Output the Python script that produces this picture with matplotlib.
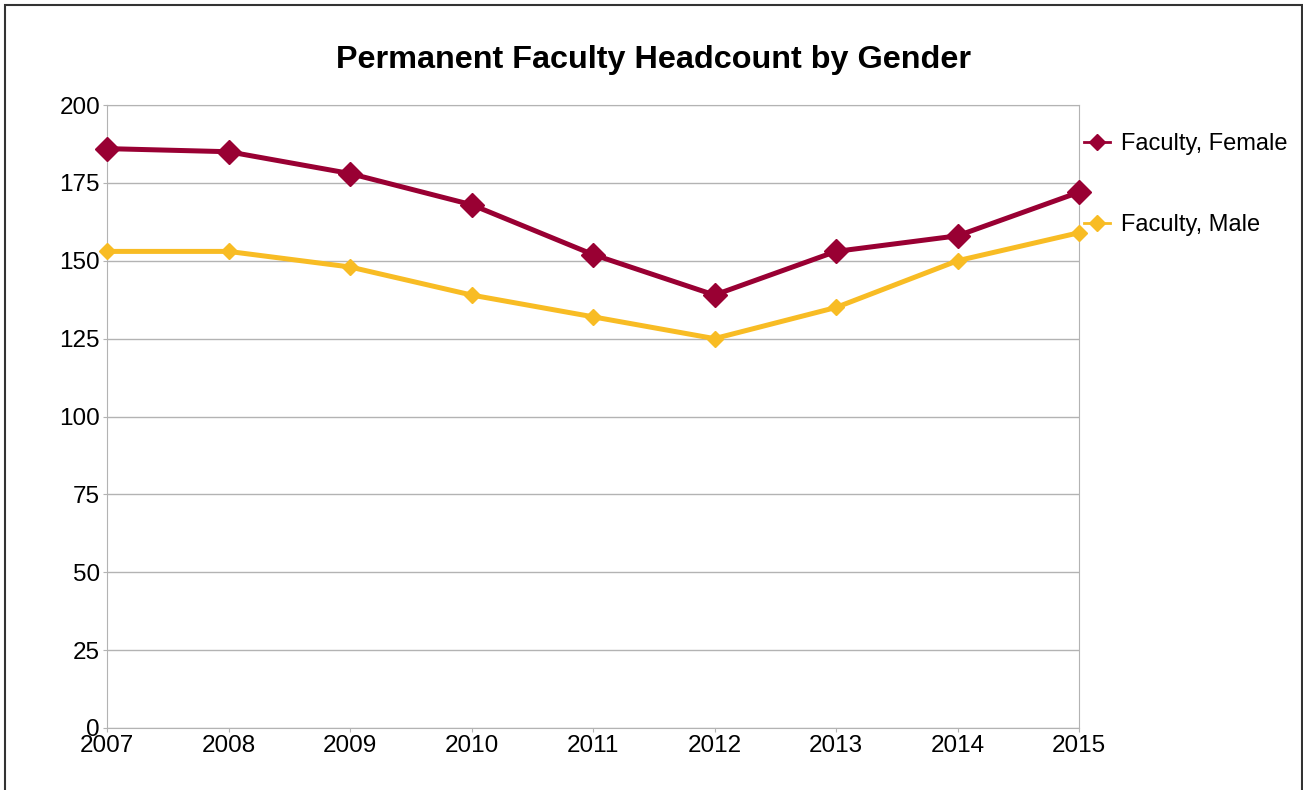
import matplotlib.pyplot as plt
from matplotlib.patches import Rectangle
from matplotlib.lines import Line2D

plt.rcParams['font.family'] = ['Liberation Sans', 'DejaVu Sans']

years = [2007, 2008, 2009, 2010, 2011, 2012, 2013, 2014, 2015]
female = [186, 185, 178, 168, 152, 139, 153, 158, 172]
male = [153, 153, 148, 139, 132, 125, 135, 150, 159]
yticks = [0, 25, 50, 75, 100, 125, 150, 175, 200]

fig = plt.figure(figsize=(13.03, 7.9), dpi=100)
ax = fig.add_axes([107 / 1303, 1 - 728 / 790, (1079 - 107) / 1303, (728 - 105) / 790])

ax.plot(years, male, color="#F8BC24", linewidth=3.6, marker="D", markersize=8,
        label="Faculty, Male", zorder=3, clip_on=False)
ax.plot(years, female, color="#990033", linewidth=3.6, marker="D", markersize=12,
        label="Faculty, Female", zorder=4, clip_on=False)

ax.set_xlim(2007, 2015)
ax.set_ylim(0, 200)
ax.set_xticks(years)
ax.set_yticks(yticks)
ax.tick_params(labelsize=17.5, length=3, color="#b3b3b3", pad=2)
ax.grid(axis="y", color="#b3b3b3", linewidth=1)
ax.set_axisbelow(True)
for s in ax.spines.values():
    s.set_color("#b3b3b3")

fig.suptitle("Permanent Faculty Headcount by Gender", fontsize=23.3, fontweight="bold",
             x=653 / 1303, y=1 - 45 / 790)

# legend handles drawn thinner, like the original
handles = [Line2D([], [], color="#990033", linewidth=2, marker="D", markersize=8),
           Line2D([], [], color="#F8BC24", linewidth=2, marker="D", markersize=8)]
fig.legend(handles, ["Faculty, Female", "Faculty, Male"], loc="upper left",
           bbox_to_anchor=(1084 / 1303, 1 - 133 / 790),
           frameon=False, fontsize=17, labelspacing=2.5, handlelength=1.1,
           handletextpad=0.45, borderaxespad=0, borderpad=0)

fig.patches.append(Rectangle((5 / 1303, -0.01), 1297 / 1303, 1.01 - 5 / 790,
                             transform=fig.transFigure, fill=False,
                             edgecolor="#333333", linewidth=1.5))

fig.savefig("out.png", dpi=100)
